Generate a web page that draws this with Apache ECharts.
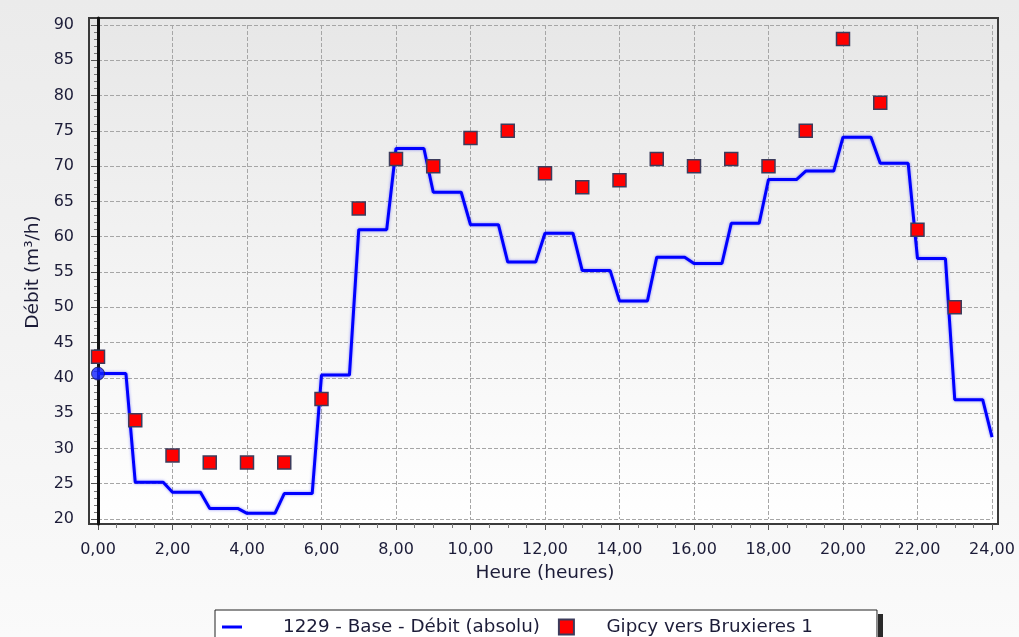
<!DOCTYPE html>
<html>
<head>
<meta charset="utf-8">
<script src="https://cdn.jsdelivr.net/npm/echarts@6/dist/echarts.min.js"></script>
<style>
html,body{margin:0;padding:0;background:#fff;}
#chart{width:1019px;height:637px;}
</style>
</head>
<body>
<div id="chart"></div>
<script>
// ---- data ----
const lineName = '1229 - Base - Débit (absolu)';
const squareName = 'Gipcy vers Bruxieres 1';
const lineHours = [0,0.75, 1,1.75, 2,2.75, 3,3.75, 4,4.75, 5,5.75, 6,6.75, 7,7.75, 8,8.75, 9,9.75, 10,10.75, 11,11.75,
  12,12.75, 13,13.75, 14,14.75, 15,15.75, 16,16.75, 17,17.75, 18,18.75, 19,19.75, 20,20.75, 21,21.75, 22,22.75, 23,23.75, 24];
const lineValues = [40.6,40.6, 25.2,25.2, 23.8,23.8, 21.5,21.5, 20.8,20.8, 23.6,23.6, 40.4,40.4, 61.0,61.0, 72.5,72.5,
  66.3,66.3, 61.7,61.7, 56.4,56.4, 60.5,60.5, 55.2,55.2, 50.9,50.9, 57.1,57.1, 56.2,56.2, 61.9,61.9, 68.1,68.1,
  69.3,69.3, 74.1,74.1, 70.4,70.4, 56.9,56.9, 36.9,36.9, 31.6];
const squareHours = [0,1,2,3,4,5,6,7,8,9,10,11,12,13,14,15,16,17,18,19,20,21,22,23];
const squareValues = [43,34,29,28,28,28,37,64,71,70,74,75,69,67,68,71,70,71,70,75,88,79,61,50];
const cursorHour = 0;
const cursorValue = 40.6;
const xMin = 0, xMax = 24, xStep = 2;
const yMin = 20, yMax = 90, yStep = 5;
const xTitle = 'Heure (heures)';
const yTitle = 'Débit (m³/h)';

// ---- layout ----
const W = 1019, H = 637;
const frame = {left: 89, top: 18, right: 21, bottom: 113};
const plot = {left: 98, top: 25, right: 27, bottom: 118};
const pxX = (W - plot.left - plot.right) / (xMax - xMin);
const pxY = (H - plot.top - plot.bottom) / (yMax - yMin);
const fxMin = xMin - (plot.left - frame.left) / pxX;
const fxMax = xMax + (plot.right - frame.right) / pxX;
const fyMin = yMin - (plot.bottom - frame.bottom) / pxY;
const fyMax = yMax + (plot.top - frame.top) / pxY;

const font = 'DejaVu Sans';
const txt = '#1c1c38';

const chart = echarts.init(document.getElementById('chart'), null, {renderer: 'canvas'});
chart.setOption({
  animation: false,
  backgroundColor: {type: 'linear', x: 0, y: 0, x2: 0, y2: 1,
    colorStops: [{offset: 0, color: '#ebebeb'}, {offset: 1, color: '#fafafa'}]},
  textStyle: {fontFamily: font, color: txt},
  graphic: [
    {type: 'rect', left: 878, top: 614, shape: {width: 5, height: 30}, style: {fill: '#2a2a2a'}, z: 100}
  ],
  grid: [
    {left: frame.left, top: frame.top, right: frame.right, bottom: frame.bottom, show: true, z: 0,
      borderColor: '#3a3a3a', borderWidth: 2,
      backgroundColor: {type: 'linear', x: 0, y: 0, x2: 0, y2: 1,
        colorStops: [{offset: 0, color: '#e7e7e7'}, {offset: 1, color: '#ffffff'}]}},
    {left: plot.left, top: plot.top, right: plot.right, bottom: plot.bottom, show: false}
  ],
  xAxis: [
    {gridIndex: 0, type: 'value', min: fxMin, max: fxMax, show: false},
    {gridIndex: 1, type: 'value', min: xMin, max: xMax, interval: xStep, offset: plot.bottom - frame.bottom, z: 1,
      name: xTitle, nameLocation: 'middle', nameGap: 40,
      nameTextStyle: {fontSize: 18.5, color: txt, fontFamily: font},
      axisLine: {show: false},
      axisTick: {show: true, length: 6, lineStyle: {color: '#555'}},
      minorTick: {show: true, splitNumber: 4, length: 4, lineStyle: {color: '#777'}},
      axisLabel: {margin: 18, fontSize: 16, color: txt, fontFamily: font,
        formatter: v => v.toFixed(2).replace('.', ',')},
      splitLine: {show: true, lineStyle: {color: '#a6a6a6', width: 1, type: [4, 2]}}}
  ],
  yAxis: [
    {gridIndex: 0, type: 'value', min: fyMin, max: fyMax, z: 2,
      axisLine: {show: true, onZero: true, lineStyle: {color: '#111', width: 3}},
      axisTick: {show: false}, axisLabel: {show: false}, splitLine: {show: false}},
    {gridIndex: 1, type: 'value', min: yMin, max: yMax, interval: yStep, offset: plot.left - frame.left + 1, z: 1,
      name: yTitle, nameLocation: 'middle', nameGap: 45, nameRotate: 90,
      nameTextStyle: {fontSize: 18.5, color: txt, fontFamily: font},
      axisLine: {show: false},
      axisTick: {show: true, length: 7, lineStyle: {color: '#555'}},
      minorTick: {show: true, splitNumber: 5, length: 4, lineStyle: {color: '#777'}},
      axisLabel: {margin: 14, fontSize: 16, color: txt, fontFamily: font},
      splitLine: {show: true, lineStyle: {color: '#a6a6a6', width: 1, type: [4, 2]}}}
  ],
  legend: {
    left: 215, top: 610, orient: 'horizontal',
    itemWidth: 20, itemHeight: 15, itemGap: 18,
    padding: [8, 64, 20, 7],
    backgroundColor: '#ffffff', borderColor: '#222', borderWidth: 1,
    textStyle: {fontSize: 18.3, color: txt, fontFamily: font},
    data: [
      {name: lineName, icon: 'path://M0,0H20V3H0Z', textStyle: {padding: [0, 0, 0, 36]}},
      {name: squareName, icon: 'path://M0,0H15V15H0Z', textStyle: {padding: [0, 0, 0, 25]}}
    ]
  },
  series: [
    {name: lineName, type: 'line', xAxisIndex: 1, yAxisIndex: 1, z: 3,
      symbol: 'none', smooth: false,
      lineStyle: {color: '#0000ff', width: 3, shadowBlur: 3, shadowColor: 'rgba(0,0,255,0.45)'},
      itemStyle: {color: '#0000ff'},
      data: lineHours.map((h, i) => [h, lineValues[i]])},
    {name: 'cursor', type: 'scatter', xAxisIndex: 1, yAxisIndex: 1, z: 4,
      symbol: 'circle', symbolSize: 13,
      itemStyle: {color: '#1020ff', borderColor: '#1a1a50', borderWidth: 1},
      data: [[cursorHour, cursorValue]]},
    {name: squareName, type: 'scatter', xAxisIndex: 1, yAxisIndex: 1, z: 5,
      symbol: 'rect', symbolSize: 13,
      itemStyle: {color: '#ff0000', borderColor: '#3c3c5c', borderWidth: 1.5, opacity: 1},
      data: squareHours.map((h, i) => [h, squareValues[i]])}
  ]
});
</script>
</body>
</html>
